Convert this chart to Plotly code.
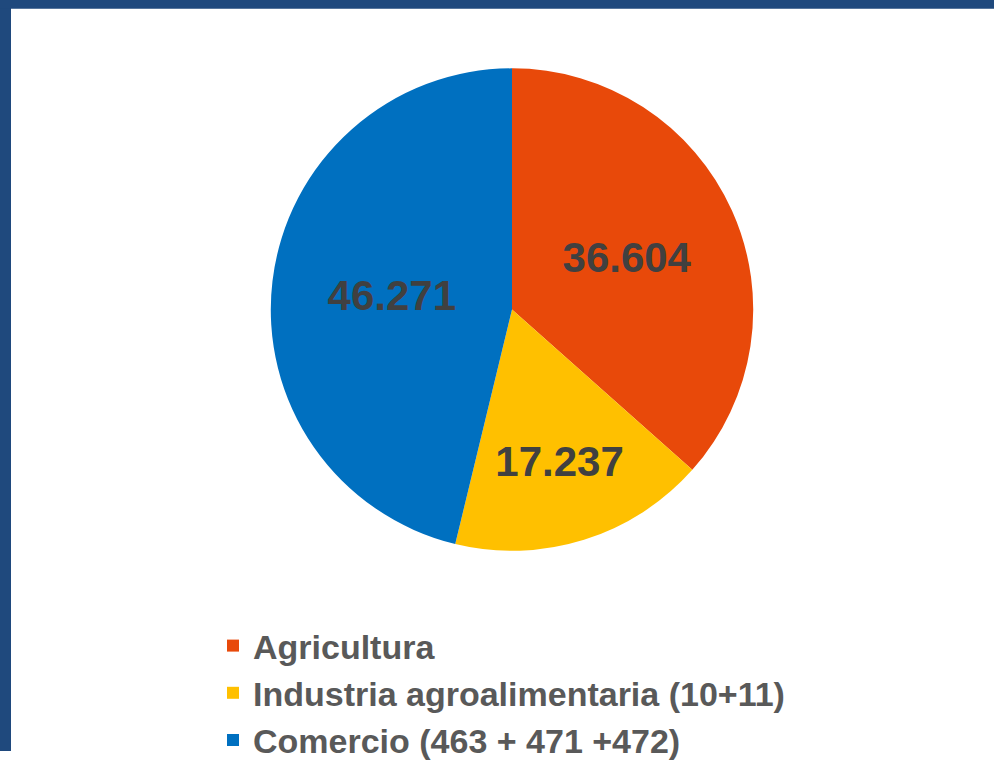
import plotly.graph_objects as go

categories = ["Agricultura", "Industria agroalimentaria (10+11)", "Comercio (463 + 471 +472)"]
values = [36604, 17237, 46271]
colors = ["#E8490A", "#FFC000", "#0070C0"]

W, H = 994, 769
cx, cy, r = 512, 317, 247

fig = go.Figure(go.Pie(
    labels=categories,
    values=values,
    sort=False,
    direction="clockwise",
    rotation=0,
    marker=dict(colors=colors, line=dict(width=0)),
    texttemplate="%{value:,}",
    textposition="inside",
    insidetextorientation="horizontal",
    textfont=dict(family="Liberation Sans, Arial, sans-serif", size=42, color="#404040", weight="bold"),
    hoverinfo="label+value",
    domain=dict(x=[(cx - r) / W, (cx + r) / W], y=[1 - (cy + r) / H, 1 - (cy - r) / H]),
))

fig.update_layout(
    width=W, height=H,
    margin=dict(l=0, r=0, t=0, b=0),
    paper_bgcolor="white",
    separators=",.",
    showlegend=True,
    legend=dict(
        orientation="v",
        x=213 / W, xanchor="left",
        y=1 - 632 / H, yanchor="top",
        font=dict(family="Liberation Sans, Arial, sans-serif", size=34, color="#595959", weight="bold"),
        tracegroupgap=0,
        itemwidth=30,
        bgcolor="rgba(0,0,0,0)",
    ),
    shapes=[
        dict(type="rect", xref="paper", yref="paper", x0=0, x1=11 / W, y0=0, y1=1,
             fillcolor="#1F497D", line=dict(width=0), layer="above"),
        dict(type="rect", xref="paper", yref="paper", x0=0, x1=1, y0=1 - 9 / H, y1=1,
             fillcolor="#1F497D", line=dict(width=0), layer="above"),
    ],
)

fig.write_html("out.html", config={"displayModeBar": False},
               post_script="document.body.style.margin='0';document.body.style.overflow='hidden';")
